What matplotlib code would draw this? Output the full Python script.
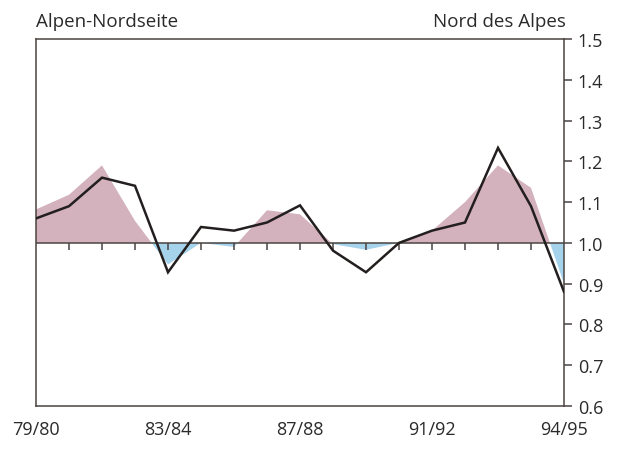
import matplotlib
matplotlib.use("Agg")
import matplotlib.pyplot as plt
from matplotlib.lines import TICKDOWN
import numpy as np

plt.rcParams['font.family'] = ['Open Sans', 'DejaVu Sans']

# Data
seasons_idx = list(range(17))
line_values = [1.06, 1.09, 1.16, 1.14, 0.928, 1.039, 1.03, 1.05, 1.092,
               0.981, 0.928, 1.0, 1.03, 1.05, 1.233, 1.09, 0.88]
area_values = [1.082, 1.118, 1.19, 1.054, 0.947, 1.0, 0.99, 1.08, 1.07,
               0.997, 0.983, 1.0, 1.03, 1.10, 1.19, 1.135, 0.90]
xtick_pos = [0, 4, 8, 12, 16]
xtick_labels = ["79/80", "83/84", "87/88", "91/92", "94/95"]
yticks = [0.6, 0.7, 0.8, 0.9, 1.0, 1.1, 1.2, 1.3, 1.4, 1.5]
baseline = 1.0

pink = "#d3b1bd"
blue = "#a6d3ec"
dark = "#231f1e"
spine_c = "#4a4440"
text_c = "#2a2a2a"

fig = plt.figure(figsize=(6.25, 4.52), dpi=100)
ax = fig.add_axes([36/625, 1-407/452, (564-36)/625, (407-40)/452])

x = np.array(seasons_idx, dtype=float)
a = np.array(area_values)
ax.fill_between(x, a, baseline, where=a >= baseline, interpolate=True,
                color=pink, linewidth=0, zorder=1)
ax.fill_between(x, a, baseline, where=a <= baseline, interpolate=True,
                color=blue, linewidth=0, zorder=1)

ax.axhline(baseline, color=spine_c, linewidth=1.1, zorder=2)
ax.plot(x[1:-1], [baseline]*(len(x)-2), linestyle='none', marker=TICKDOWN,
        markersize=5, markeredgewidth=1.1, color=spine_c, zorder=2)

ax.plot(x, line_values, color=dark, linewidth=1.8, zorder=3,
        solid_joinstyle='miter')

ax.set_xlim(0, 16)
ax.set_ylim(0.6, 1.5)

ax.yaxis.tick_right()
ax.set_yticks(yticks)
ax.set_yticklabels([f"{v:.1f}" for v in yticks])
ax.tick_params(axis='y', direction='out', length=6, width=1.1, color=spine_c,
               labelsize=13, pad=4, labelcolor=text_c)
ax.set_xticks(xtick_pos)
ax.set_xticklabels(xtick_labels)
ax.tick_params(axis='x', length=0, labelsize=13, pad=10, labelcolor=text_c)

for s in ax.spines.values():
    s.set_color(spine_c)
    s.set_linewidth(1.1)

fig.text(36/625, 1-27/452, "Alpen-Nordseite", fontsize=13.5, color=text_c,
         ha='left', va='baseline')
fig.text(566/625, 1-27/452, "Nord des Alpes", fontsize=13.5, color=text_c,
         ha='right', va='baseline')

fig.savefig("out.png", dpi=100)
